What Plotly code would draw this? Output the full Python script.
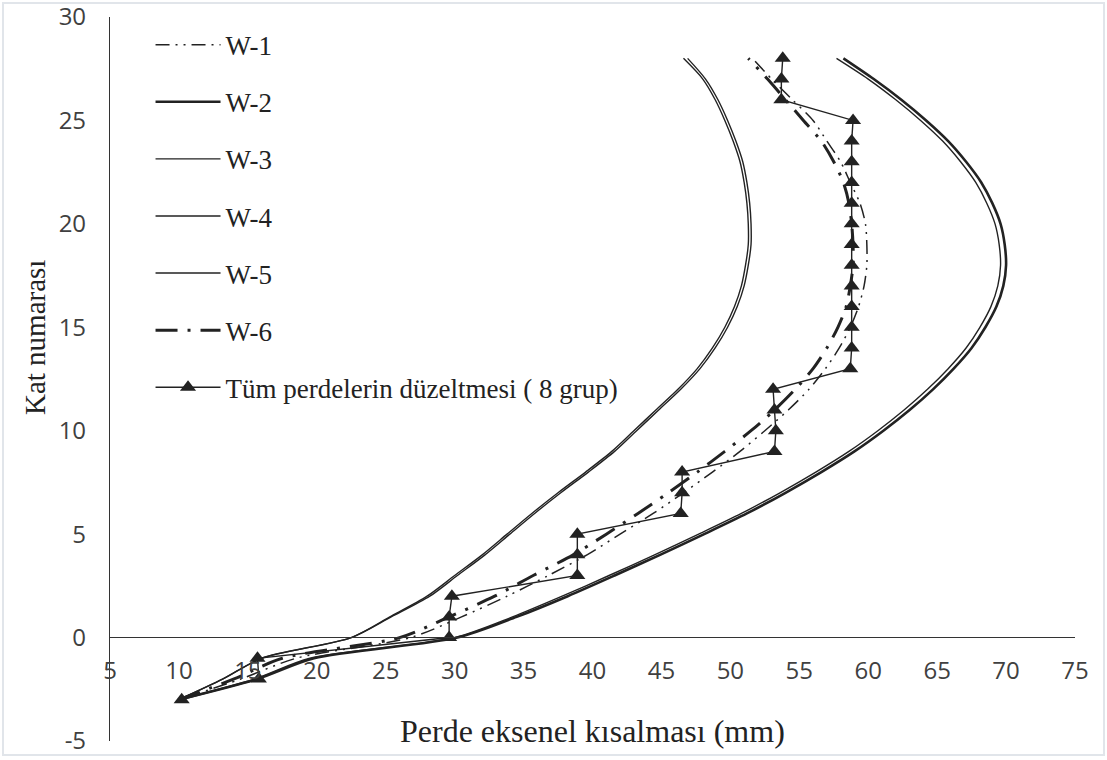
import plotly.graph_objects as go

floors = list(range(-3, 29))

w1 = [10.0, 14.5, 18.5, 26.8, 30.5, 33.8, 36.8, 39.6, 42.0, 44.4, 46.6, 48.7, 50.7, 52.5,
      54.2, 55.7, 56.9, 57.9, 58.7, 59.3, 59.7, 59.9, 59.9, 59.8, 59.4, 58.7, 58.0, 57.0,
      56.0, 54.5, 53.0, 51.6]
w2 = [10.0, 15.7, 19.8, 30.2, 34.5, 38.2, 41.6, 44.9, 48.1, 51.2, 54.0, 56.6, 59.0, 61.1,
      63.0, 64.7, 66.2, 67.5, 68.5, 69.3, 69.8, 70.0, 69.9, 69.6, 69.0, 68.2, 67.1, 65.8,
      64.2, 62.4, 60.4, 58.2]
w3 = [10.0, 13.2, 16.0, 22.5, 25.3, 28.0, 30.0, 32.0, 33.8, 35.6, 37.5, 39.5, 41.4, 43.0,
      44.6, 46.2, 47.6, 48.7, 49.6, 50.3, 50.8, 51.1, 51.3, 51.3, 51.2, 51.0, 50.7, 50.2,
      49.6, 48.9, 48.0, 46.6]
w4 = [10.0, 13.2, 16.0, 22.5, 25.4, 28.2, 30.2, 32.2, 34.0, 35.8, 37.7, 39.7, 41.6, 43.2,
      44.8, 46.4, 47.8, 48.9, 49.8, 50.5, 51.0, 51.3, 51.5, 51.5, 51.4, 51.2, 50.9, 50.4,
      49.8, 49.1, 48.2, 46.9]
w5 = [10.0, 15.5, 19.5, 30.0, 34.2, 37.8, 41.2, 44.5, 47.7, 50.8, 53.6, 56.2, 58.6, 60.7,
      62.6, 64.3, 65.8, 67.1, 68.1, 68.9, 69.4, 69.6, 69.5, 69.2, 68.6, 67.8, 66.7, 65.4,
      63.8, 62.0, 60.0, 57.7]
w6 = [10.0, 14.0, 17.5, 26.0, 29.6, 32.9, 35.7, 38.6, 41.0, 43.3, 45.5, 47.6, 49.6, 51.5,
      53.2, 54.7, 56.0, 57.0, 57.8, 58.4, 58.7, 58.9, 58.9, 58.8, 58.6, 58.2, 57.5, 56.6,
      55.3, 54.0, 52.7, 51.3]
all_walls = [10.2, 15.8, 15.7, 29.6, 29.6, 29.8, 38.9, 38.9, 38.9, 46.4, 46.5, 46.5, 53.2, 53.3,
             53.2, 53.1, 58.7, 58.8, 58.8, 58.8, 58.8, 58.8, 58.8, 58.8, 58.8, 58.8, 58.8, 58.8,
             58.9, 53.7, 53.7, 53.8]

names = ["W-1", "W-2", "W-3", "W-4", "W-5", "W-6", "Tüm perdelerin düzeltmesi ( 8 grup)"]

x_ticks = list(range(5, 80, 5))
y_ticks = list(range(-5, 35, 5))
x_labels = [str(v) for v in x_ticks]
y_labels = [str(v) for v in y_ticks]

C = "#222222"
fig = go.Figure()

styles = [
    dict(width=1.5, dash="14px,6px,2px,6px,2px,6px"),
    dict(width=2.6, dash="solid"),
    dict(width=1.4, dash="solid"),
    dict(width=1.4, dash="solid"),
    dict(width=1.4, dash="solid"),
    dict(width=3.0, dash="22px,10px,3px,10px"),
]
series = [w1, w2, w3, w4, w5, w6]
for i, (s, st) in enumerate(zip(series, styles)):
    fig.add_trace(go.Scatter(
        x=s, y=floors, mode="lines", name=names[i], legendgroup=f"g{i}",
        line=dict(color=C, width=st["width"], dash=st["dash"], shape="spline", smoothing=0.8),
    ))

fig.add_trace(go.Scatter(
    x=all_walls, y=floors, mode="lines+markers", name=names[6], legendgroup="g6",
    line=dict(color=C, width=1.4),
    marker=dict(symbol="triangle-up", size=14, color=C),
))

serif = "Liberation Serif, Times New Roman, serif"
fig.update_layout(
    width=1107, height=760,
    margin=dict(l=110, r=32, t=17, b=19),
    paper_bgcolor="white", plot_bgcolor="white",
    showlegend=True,
    legend=dict(
        x=0.042, y=0.995, xanchor="left", yanchor="top",
        traceorder="grouped", tracegroupgap=19, itemwidth=65,
        font=dict(family=serif, size=27, color="#222222"),
        bgcolor="rgba(0,0,0,0)",
    ),
    xaxis=dict(
        range=[5, 75], tickvals=x_ticks, ticktext=x_labels, showgrid=False, zeroline=False,
        showline=True, linecolor="#333333", linewidth=1.2,
        anchor="free", position=104 / 724, ticks="", automargin=False,
        ticklabelstandoff=12, ticklabeloverflow="allow",
        tickfont=dict(family="Open Sans, sans-serif", size=24, color="#404040"),
    ),
    yaxis=dict(
        range=[-5, 30], tickvals=y_ticks, ticktext=y_labels, showgrid=False, zeroline=False,
        showline=True, linecolor="#333333", linewidth=1.2, ticks="", automargin=False,
        ticklabelstandoff=18, ticklabeloverflow="allow",
        tickfont=dict(family="Open Sans, sans-serif", size=24, color="#404040"),
    ),
    annotations=[
        dict(text="Perde eksenel kısalması (mm)", xref="paper", yref="paper",
             x=0.5, y=10 / 724, xanchor="center", yanchor="middle", showarrow=False,
             font=dict(family=serif, size=32, color="#222222")),
        dict(text="Kat numarası", xref="paper", yref="paper",
             x=-75 / 965, y=403 / 724, xanchor="center", yanchor="middle", showarrow=False,
             textangle=-90, font=dict(family=serif, size=29, color="#222222")),
    ],
    shapes=[
        dict(type="rect", xref="paper", yref="paper",
             x0=-107 / 965, x1=994 / 965, y0=-14 / 724, y1=738 / 724,
             line=dict(color="#e1e5ea", width=2), fillcolor="rgba(0,0,0,0)", layer="below"),
    ],
)

fig.write_html("out.html", post_script="document.body.style.margin='0';",
               config={"displayModeBar": False})
